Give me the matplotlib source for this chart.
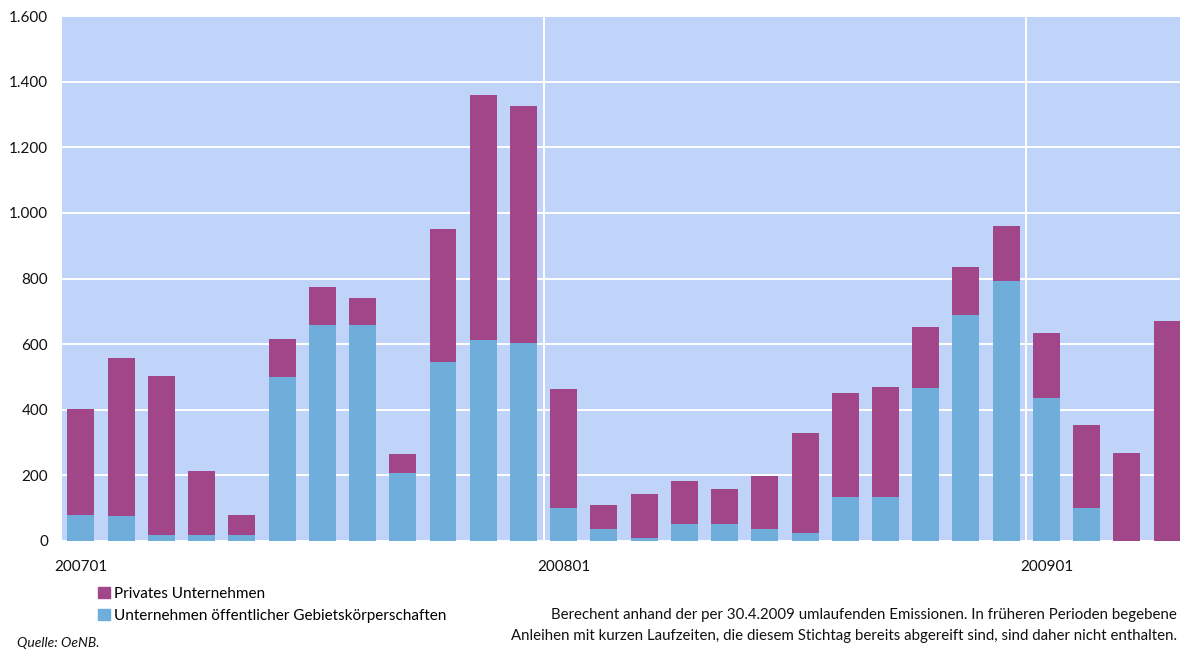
import matplotlib
matplotlib.use("Agg")
import matplotlib.pyplot as plt
from matplotlib.patches import Patch
import numpy as np

plt.rcParams['font.family'] = ['Lato', 'DejaVu Sans']

months = [f"{y}{m:02d}" for y in (2007, 2008) for m in range(1, 13)] + \
         [f"2009{m:02d}" for m in range(1, 5)]

# Volumes in Mio EUR by issuer type
oeffentlich = [79, 76, 18, 18, 18, 500, 658, 658, 207, 546, 613, 603,
               101, 37, 9, 52, 52, 37, 24, 134, 134, 466, 689, 792,
               436, 101, 0, 0]
gesamt = [402, 558, 503, 213, 79, 616, 774, 741, 265, 951, 1359, 1326,
          463, 110, 143, 183, 158, 198, 329, 451, 469, 652, 835, 960,
          634, 354, 268, 671]
privat = [g - o for g, o in zip(gesamt, oeffentlich)]

tick_labels = ["200701", "200801", "200901"]
y_ticks = [0, 200, 400, 600, 800, 1000, 1200, 1400, 1600]

c_priv = "#A2468A"
c_oeff = "#6FADDA"
c_bg = "#C0D3F8"

W, H = 1180, 649
fig = plt.figure(figsize=(W / 100, H / 100), dpi=100)
ax = fig.add_axes([62 / W, (H - 541) / H, (W - 62) / W, 525 / H])
ax.set_facecolor(c_bg)

x = np.arange(len(months))
ax.bar(x, oeffentlich, width=0.67, color=c_oeff, zorder=3)
ax.bar(x, privat, width=0.67, bottom=oeffentlich, color=c_priv, zorder=3)

ax.set_xlim(-0.47, 27.32)
ax.set_ylim(0, 1600)
ax.set_yticks(y_ticks)
ax.set_yticklabels([f"{v:,}".replace(",", ".") for v in y_ticks],
                   fontsize=11, color="#111111")
ax.yaxis.grid(True, color="white", linewidth=1.4, zorder=1)
for xv in (11.5, 23.5):
    ax.axvline(xv, color="white", linewidth=1.4, zorder=1)

tick_pos = [months.index(t) for t in tick_labels]
ax.set_xticks(tick_pos)
ax.set_xticklabels(tick_labels, fontsize=11, color="#111111")
ax.tick_params(axis="both", length=0)
ax.tick_params(axis="x", pad=14)
ax.tick_params(axis="y", pad=10)
for s in ax.spines.values():
    s.set_visible(False)

handles = [Patch(color=c_priv, label="Privates Unternehmen"),
           Patch(color=c_oeff, label="Unternehmen öffentlicher Gebietskörperschaften")]
fig.legend(handles=handles, loc="upper left", bbox_to_anchor=(92 / W, 1 - 581 / H),
           frameon=False, fontsize=11, handlelength=0.75, handleheight=0.75,
           handletextpad=0.3, labelspacing=0.5, borderaxespad=0)

fig.text(1177 / W, 1 - 615 / H,
         "Berechent anhand der per 30.4.2009 umlaufenden Emissionen. In früheren Perioden begebene",
         ha="right", va="center", fontsize=10.8, color="#111111")
fig.text(1177 / W, 1 - 636 / H,
         "Anleihen mit kurzen Laufzeiten, die diesem Stichtag bereits abgereift sind, sind daher nicht enthalten.",
         ha="right", va="center", fontsize=10.8, color="#111111")
fig.text(17 / W, 1 - 643 / H, "Quelle: OeNB.", ha="left", va="center",
         fontsize=10, style="italic", color="#111111")

fig.savefig("out.png", dpi=100)
